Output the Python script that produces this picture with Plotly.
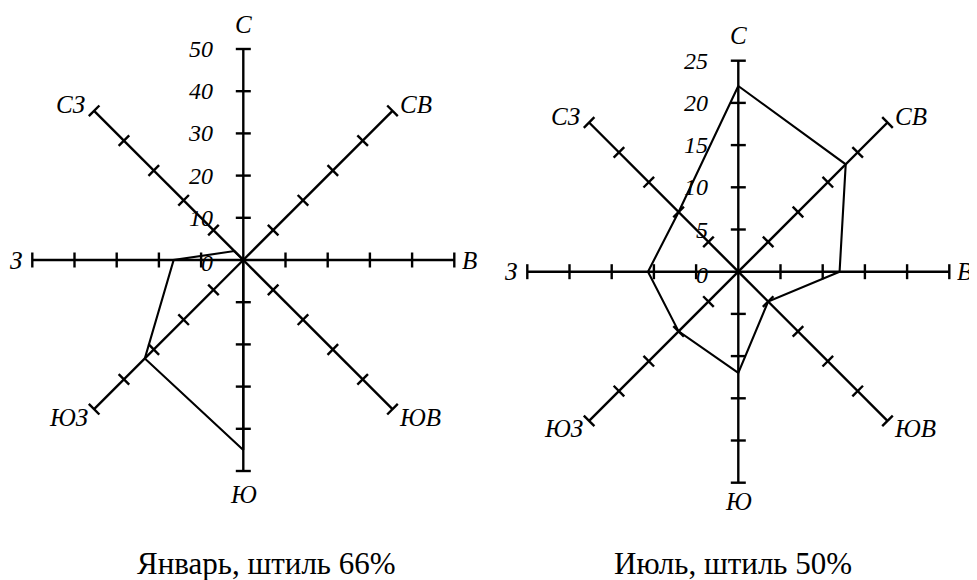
import numpy as np
import plotly.graph_objects as go

# Розы ветров: январь и июль
directions = ['С', 'СВ', 'В', 'ЮВ', 'Ю', 'ЮЗ', 'З', 'СЗ']
angles_deg = [90, 45, 0, -45, -90, -135, 180, 135]

jan_values = [0, 0, 0, 0, 45, 33, 16.5, 3]
jul_values = [22, 18, 12, 5, 12, 10, 10.7, 10]

jan_ticks = [10, 20, 30, 40, 50]
jul_ticks = [5, 10, 15, 20, 25]
jan_tick_labels = ['0', '10', '20', '30', '40', '50']
jul_tick_labels = ['0', '5', '10', '15', '20', '25']

jan_title = 'Январь, штиль 66%'
jul_title = 'Июль, штиль 50%'

# la page html a une marge de 8px autour du graphique
OFF = 8
W, H = 977 - OFF, 580 - OFF
FONT = 'Liberation Serif, Times New Roman, serif'

# centres en pixels (dans la fenetre), rayon 211px
panels = [
    dict(vals=jan_values, ticks=jan_ticks, labels=jan_tick_labels, title=jan_title,
         cx=243.3, cy=260, rmax=50, split=488, xa='x', ya='y', south=-23, tx=266),
    dict(vals=jul_values, ticks=jul_ticks, labels=jul_tick_labels, title=jul_title,
         cx=738.3, cy=271.7, rmax=25, split=488, xa='x2', ya='y2', south=-19, tx=733),
]

# decalages des etiquettes de direction (xanchor, xshift, yshift)
label_pos = {
    'С': ('center', 0, 25),
    'СВ': ('left', 5, 6),
    'В': ('left', 6, 0),
    'ЮВ': ('left', 4, -8),
    'Ю': ('center', 0, -22),
    'ЮЗ': ('right', -4, -8),
    'З': ('right', -8, 0),
    'СЗ': ('right', -7, 6),
}

fig = go.Figure()
annotations = []
layout_axes = {}

for i, p in enumerate(panels):
    s = 211 / p['rmax']
    cx, cy = p['cx'] - OFF, p['cy'] - OFF
    split = p['split'] - OFF
    dom = [0, split / W] if i == 0 else [split / W, 1]
    x0, x1 = dom[0] * W, dom[1] * W
    th = np.radians(angles_deg)
    half = 7.5 / s

    # axes + graduations
    ax_x, ax_y = [], []
    for t in th:
        ax_x += [0, p['rmax'] * np.cos(t), None]
        ax_y += [0, p['rmax'] * np.sin(t), None]
        for v in p['ticks']:
            px, py = v * np.cos(t), v * np.sin(t)
            nx, ny = -np.sin(t), np.cos(t)
            ax_x += [px - half * nx, px + half * nx, None]
            ax_y += [py - half * ny, py + half * ny, None]
    fig.add_trace(go.Scatter(x=ax_x, y=ax_y, mode='lines', xaxis=p['xa'], yaxis=p['ya'],
                             line=dict(color='black', width=2.4), hoverinfo='skip',
                             showlegend=False))

    # polygone
    r = np.array(p['vals'] + p['vals'][:1], dtype=float)
    tt = np.append(th, th[0])
    fig.add_trace(go.Scatter(x=r * np.cos(tt), y=r * np.sin(tt), mode='lines',
                             xaxis=p['xa'], yaxis=p['ya'],
                             line=dict(color='black', width=2.1), showlegend=False))

    # etiquettes des directions
    for d, t in zip(directions, th):
        xanc, xs, ys = label_pos[d]
        if d == 'Ю':
            ys = p['south']
        annotations.append(dict(x=p['rmax'] * np.cos(t), y=p['rmax'] * np.sin(t),
                                xref=p['xa'], yref=p['ya'], text=d, showarrow=False,
                                xanchor=xanc, yanchor='middle', xshift=xs, yshift=ys,
                                font=dict(family=FONT, size=25, color='black', style='italic')))

    # valeurs sur l'axe nord
    for v, lab in zip([0] + p['ticks'], p['labels']):
        annotations.append(dict(x=0, y=v, xref=p['xa'], yref=p['ya'], text=lab,
                                showarrow=False, xanchor='right', yanchor='middle',
                                xshift=-28, yshift=-3 if v == 0 else 0,
                                font=dict(family=FONT, size=24, color='black', style='italic')))

    # legende sous le graphique
    annotations.append(dict(x=(p['tx'] - OFF) / W, y=1 - (563 - OFF) / H,
                            xref='paper', yref='paper', text=p['title'], showarrow=False,
                            xanchor='center', yanchor='middle',
                            font=dict(family=FONT, size=31, color='black')))

    sfx = '' if i == 0 else '2'
    layout_axes['xaxis' + sfx] = dict(domain=dom, range=[(x0 - cx) / s, (x1 - cx) / s],
                                      visible=False, fixedrange=True)
    layout_axes['yaxis' + sfx] = dict(domain=[0, 1], range=[-(H - cy) / s, cy / s],
                                      visible=False, fixedrange=True)

fig.update_layout(
    width=W, height=H,
    margin=dict(l=0, r=0, t=0, b=0),
    plot_bgcolor='white', paper_bgcolor='white',
    annotations=annotations,
    **layout_axes
)

fig.write_html("out.html")
